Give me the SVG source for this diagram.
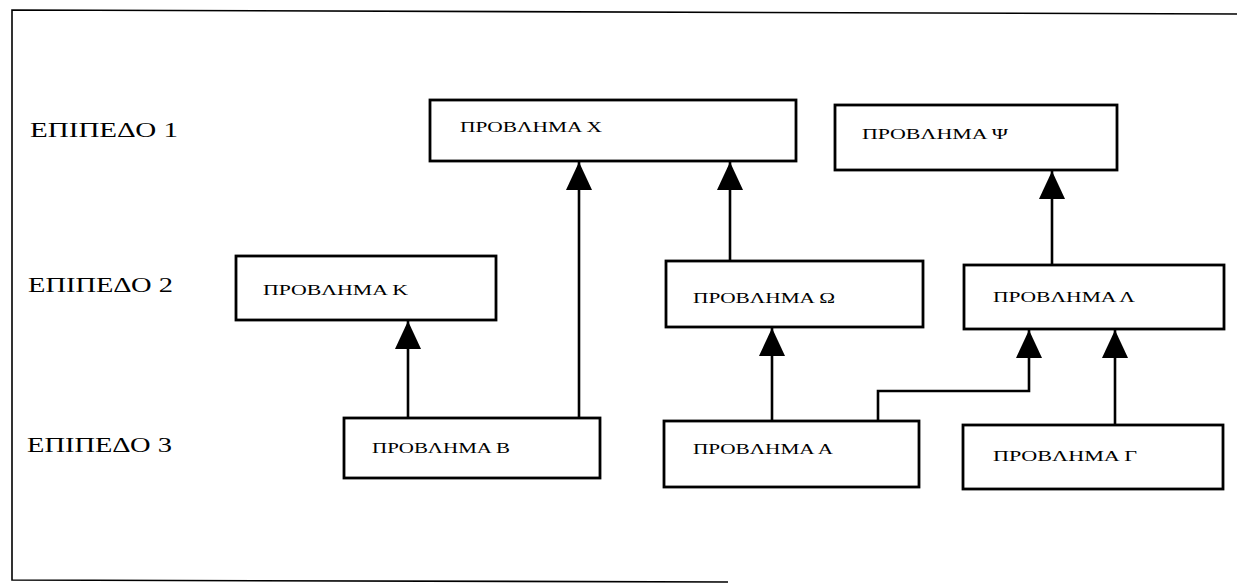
<svg xmlns="http://www.w3.org/2000/svg" width="1237" height="588" viewBox="0 0 1237 588">
  <style>
    .box { fill: #ffffff; stroke: #000000; stroke-width: 2.8; }
    .lbl { font-family: "Liberation Serif", "Times New Roman", serif; font-size: 15px; fill: #000000; }
    .lvl { font-family: "Liberation Serif", "Times New Roman", serif; font-size: 20px; fill: #000000; }
    .con { fill: none; stroke: #000000; stroke-width: 2.6; }
    .frame { fill: none; stroke: #000000; stroke-width: 1.6; }
  </style>
  <defs>
    <marker id="arrow" markerUnits="userSpaceOnUse" markerWidth="28" markerHeight="26" refX="28" refY="13" orient="auto">
      <path d="M0,0 L28,13 L0,26 z" fill="#000000"/>
    </marker>
  </defs>
  <rect width="1237" height="588" fill="#ffffff"/>

  <g id="frame">
    <path class="frame" d="M1237,14 L12,10 L12,580 L728,582"/>
  </g>

  <g id="levels">
    <text class="lvl" x="30" y="137" textLength="148" lengthAdjust="spacingAndGlyphs">ΕΠΙΠΕΔΟ 1</text>
    <text class="lvl" x="28" y="292" textLength="145" lengthAdjust="spacingAndGlyphs">ΕΠΙΠΕΔΟ 2</text>
    <text class="lvl" x="27" y="452" textLength="145" lengthAdjust="spacingAndGlyphs">ΕΠΙΠΕΔΟ 3</text>
  </g>

  <g id="connectors">
    <path class="con" d="M408,418 V321" marker-end="url(#arrow)"/>
    <path class="con" d="M579,418 V162" marker-end="url(#arrow)"/>
    <path class="con" d="M730,261 V162" marker-end="url(#arrow)"/>
    <path class="con" d="M772,421 V328" marker-end="url(#arrow)"/>
    <path class="con" d="M878,421 V391 H1029 V330" marker-end="url(#arrow)"/>
    <path class="con" d="M1115,425 V330" marker-end="url(#arrow)"/>
    <path class="con" d="M1052,265 V171" marker-end="url(#arrow)"/>
  </g>

  <g id="node-X">
    <rect class="box" x="430" y="100" width="366" height="61"/>
    <text class="lbl" x="460" y="132" textLength="142" lengthAdjust="spacingAndGlyphs">ΠΡΟΒΛΗΜΑ Χ</text>
  </g>
  <g id="node-Psi">
    <rect class="box" x="835" y="105" width="282" height="65"/>
    <text class="lbl" x="862" y="139" textLength="146" lengthAdjust="spacingAndGlyphs">ΠΡΟΒΛΗΜΑ Ψ</text>
  </g>
  <g id="node-K">
    <rect class="box" x="236" y="256" width="260" height="64"/>
    <text class="lbl" x="263" y="295" textLength="145" lengthAdjust="spacingAndGlyphs">ΠΡΟΒΛΗΜΑ Κ</text>
  </g>
  <g id="node-Omega">
    <rect class="box" x="666" y="261" width="257" height="66"/>
    <text class="lbl" x="693" y="303" textLength="142" lengthAdjust="spacingAndGlyphs">ΠΡΟΒΛΗΜΑ Ω</text>
  </g>
  <g id="node-Lambda">
    <rect class="box" x="964" y="265" width="260" height="64"/>
    <text class="lbl" x="993" y="302" textLength="142" lengthAdjust="spacingAndGlyphs">ΠΡΟΒΛΗΜΑ Λ</text>
  </g>
  <g id="node-B">
    <rect class="box" x="344" y="418" width="256" height="60"/>
    <text class="lbl" x="372" y="453" textLength="138" lengthAdjust="spacingAndGlyphs">ΠΡΟΒΛΗΜΑ Β</text>
  </g>
  <g id="node-A">
    <rect class="box" x="664" y="421" width="255" height="66"/>
    <text class="lbl" x="693" y="454" textLength="140" lengthAdjust="spacingAndGlyphs">ΠΡΟΒΛΗΜΑ Α</text>
  </g>
  <g id="node-Gamma">
    <rect class="box" x="963" y="425" width="260" height="64"/>
    <text class="lbl" x="993" y="461" textLength="144" lengthAdjust="spacingAndGlyphs">ΠΡΟΒΛΗΜΑ Γ</text>
  </g>
</svg>
